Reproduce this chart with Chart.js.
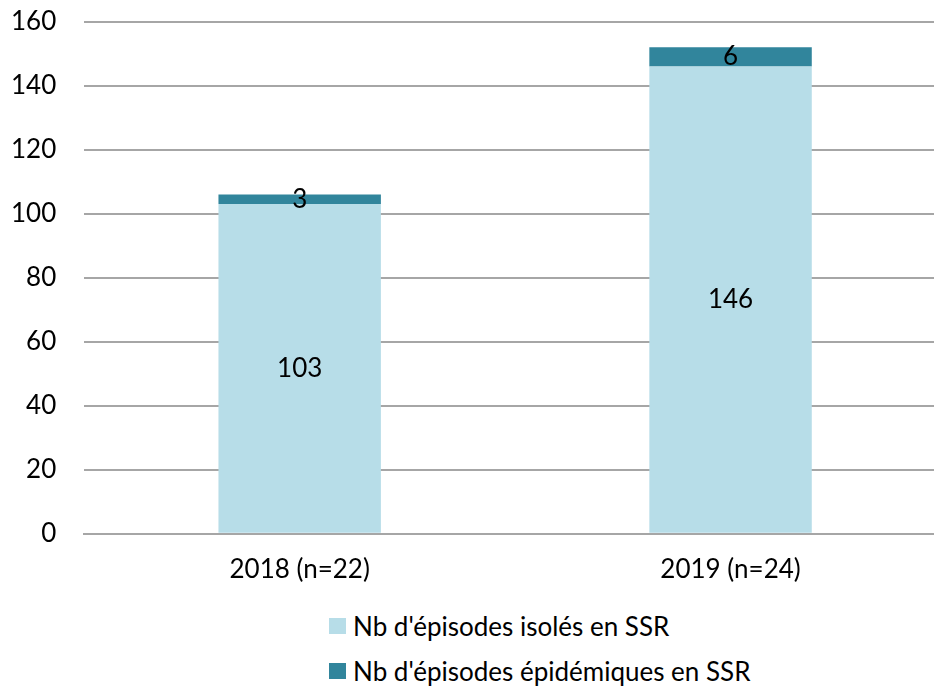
<!DOCTYPE html>
<html>
<head>
<meta charset="utf-8">
<script src="https://cdn.jsdelivr.net/npm/chart.js@4/dist/chart.umd.min.js"></script>
<style>
  html, body { margin: 0; padding: 0; background: #fff; overflow: hidden; }
  #wrap { position: relative; width: 934px; height: 689px; overflow: hidden; }
  #box { position: absolute; left: -31px; top: -22px; width: 978px; height: 619px; }
  #legend { position: absolute; left: 329px; top: 603px; font-family: Lato, sans-serif; font-size: 26px; color: #000; }
  #legend div { display: flex; align-items: center; height: 45px; }
  #legend span.sw { display: inline-block; width: 17px; height: 16px; margin-right: 7px; }
</style>
</head>
<body>
<div id="wrap">
  <div id="box"><canvas id="chart"></canvas></div>
  <div id="legend"></div>
</div>
<script>
const categories = ['2018 (n=22)', '2019 (n=24)'];
const isoles = [103, 146];
const epidemiques = [3, 6];
const yTicks = [0, 20, 40, 60, 80, 100, 120, 140, 160];

document.addEventListener('DOMContentLoaded', function () {
    const ctx = document.getElementById('chart').getContext('2d');

    const valueLabels = {
        id: 'valueLabels',
        afterDatasetsDraw(chart) {
            const c = chart.ctx;
            c.save();
            c.font = '26px Lato, sans-serif';
            c.fillStyle = '#000';
            c.textAlign = 'center';
            c.textBaseline = 'middle';
            chart.data.datasets.forEach(function (ds, i) {
                chart.getDatasetMeta(i).data.forEach(function (bar, j) {
                    c.fillText(ds.data[j], bar.x, (bar.y + bar.base) / 2);
                });
            });
            c.restore();
        }
    };

    const chart = new Chart(ctx, {
        type: 'bar',
        data: {
            labels: categories,
            datasets: [{
                label: "Nb d'épisodes isolés en SSR",
                data: isoles,
                backgroundColor: '#b7dde8'
            }, {
                label: "Nb d'épisodes épidémiques en SSR",
                data: epidemiques,
                backgroundColor: '#31859c'
            }]
        },
        options: {
            responsive: true,
            maintainAspectRatio: false,
            animation: false,
            layout: { padding: { left: 14, right: 1, top: 10, bottom: 0 } },
            datasets: { bar: { barPercentage: 0.377, categoryPercentage: 1 } },
            plugins: { legend: { display: false }, tooltip: { enabled: false } },
            scales: {
                x: {
                    stacked: true,
                    grid: { display: false },
                    border: { color: '#a6a6a6', width: 2 },
                    ticks: { color: '#000', font: { family: 'Lato', size: 26 }, padding: 12 }
                },
                y: {
                    stacked: true,
                    min: yTicks[0],
                    max: yTicks[yTicks.length - 1],
                    afterBuildTicks: function (axis) { axis.ticks = yTicks.map(function (v) { return { value: v }; }); },
                    grid: { color: '#a6a6a6', lineWidth: 2, drawTicks: false },
                    border: { display: false },
                    ticks: { color: '#000', font: { family: 'Lato', size: 26 }, padding: 28 }
                }
            }
        },
        plugins: [valueLabels]
    });

    const legend = document.getElementById('legend');
    chart.data.datasets.forEach(function (ds) {
        const row = document.createElement('div');
        const sw = document.createElement('span');
        sw.className = 'sw';
        sw.style.background = ds.backgroundColor;
        row.appendChild(sw);
        row.appendChild(document.createTextNode(ds.label));
        legend.appendChild(row);
    });
});
</script>
</body>
</html>
